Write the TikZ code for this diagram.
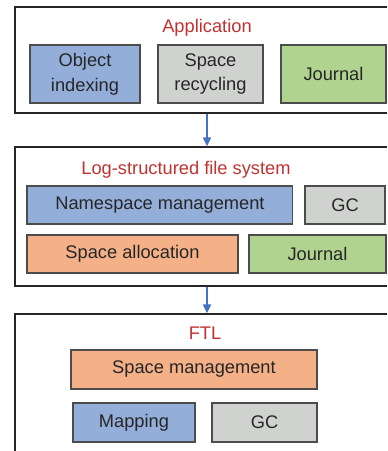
\documentclass[tikz,border=0pt]{standalone}
\usepackage{fontspec}
\setmainfont{Liberation Sans}
\usepackage{xcolor}
\usepackage{tikz}
\usetikzlibrary{arrows.meta}
\definecolor{labelred}{RGB}{192,50,50}
\definecolor{boxblue}{RGB}{148,174,218}
\definecolor{boxgray}{RGB}{208,210,208}
\definecolor{boxgreen}{RGB}{176,212,144}
\definecolor{boxorange}{RGB}{244,177,136}
\definecolor{arrowblue}{RGB}{68,114,196}

\begin{document}
\begin{tikzpicture}[
    x=0.02cm, y=-0.02cm,
    layer/.style={rectangle, draw=black!85, line width=0.85pt, inner sep=0pt},
    part/.style={rectangle, draw=black!70, line width=0.6pt, inner sep=0pt,
                 font=\fontsize{10.4}{14}\selectfont, text=black!85, align=center},
    title/.style={font=\fontsize{10.4}{12}\selectfont, text=labelred},
    arrow/.style={-{Triangle[width=4.6pt,length=5pt]}, draw=arrowblue, fill=arrowblue, line width=0.75pt}
]
\useasboundingbox (0,0) rectangle (387,451);
\clip (0,0) rectangle (387,451);

% Application layer
\node[layer, minimum width=7.68cm, minimum height=2.12cm] (app) at (207,60) {};
\node[title] (apptitle) at (207,28) {Application};
\node[part, fill=boxblue, minimum width=2.2cm, minimum height=1.16cm] (objidx) at (85,74) {Object\\indexing};
\node[part, fill=boxgray, minimum width=2.1cm, minimum height=1.16cm] (spacerec) at (210.5,74) {Space\\recycling};
\node[part, fill=boxgreen, minimum width=2.1cm, minimum height=1.16cm] (appjournal) at (333.5,74) {Journal};

% Log-structured file system
\node[layer, minimum width=7.68cm, minimum height=2.78cm] (lfs) at (207,216.5) {};
\node[title] (lfstitle) at (186,170) {Log-structured file system};
\node[part, fill=boxblue, minimum width=5.32cm, minimum height=0.76cm] (nsmgmt) at (160,205) {Namespace management};
\node[part, fill=boxgray, minimum width=1.6cm, minimum height=0.76cm] (lfsgc) at (345,205) {GC};
\node[part, fill=boxorange, minimum width=4.22cm, minimum height=0.76cm] (spalloc) at (132.5,254) {Space allocation};
\node[part, fill=boxgreen, minimum width=2.74cm, minimum height=0.76cm] (lfsjournal) at (317.5,254) {Journal};

% FTL
\node[layer, minimum width=7.68cm, minimum height=3.0cm] (ftl) at (207,389) {};
\node[title] (ftltitle) at (205,333) {FTL};
\node[part, fill=boxorange, minimum width=4.92cm, minimum height=0.78cm] (spmgmt) at (194,369.5) {Space management};
\node[part, fill=boxblue, minimum width=2.44cm, minimum height=0.78cm] (mapping) at (134,422.5) {Mapping};
\node[part, fill=boxgray, minimum width=2.1cm, minimum height=0.78cm] (ftlgc) at (264.5,422.5) {GC};

% Arrows between layers
\draw[arrow] (app.south) -- (lfs.north);
\draw[arrow] (lfs.south) -- (ftl.north);

\end{tikzpicture}
\end{document}
